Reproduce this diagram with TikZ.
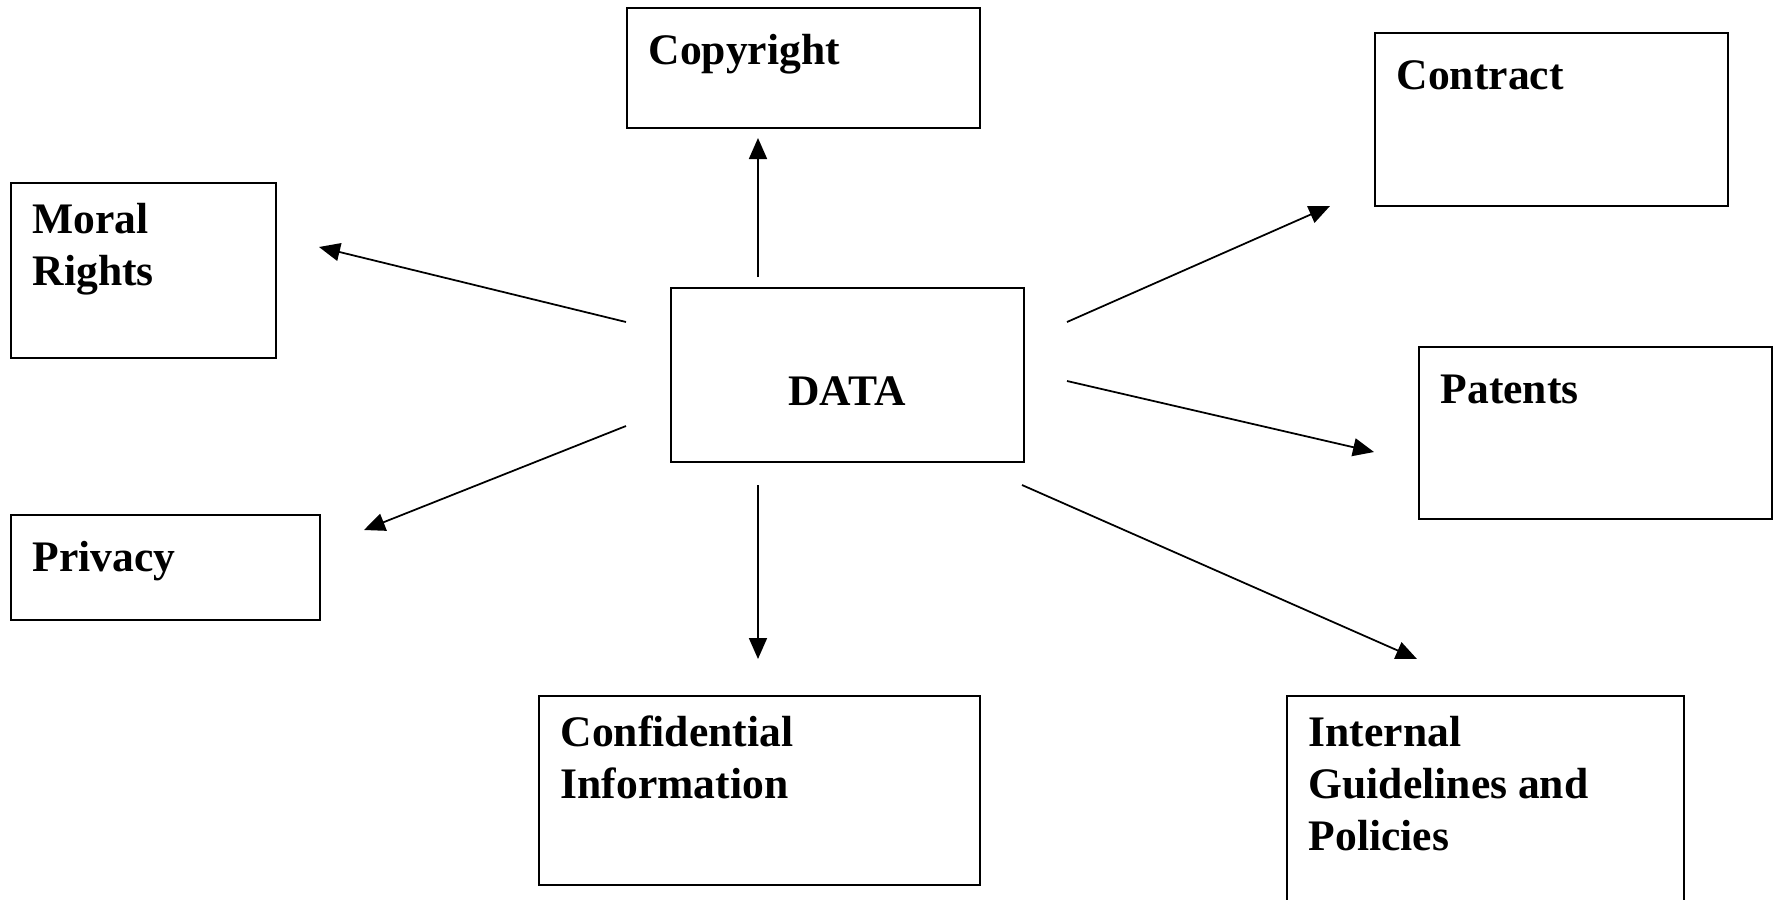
\documentclass[tikz,border=0pt]{standalone}
\usepackage{fontspec}
\setmainfont{Liberation Serif}
\usetikzlibrary{arrows.meta, positioning}

\begin{document}
\begin{tikzpicture}[
box/.style={rectangle, draw=black, line width=0.55pt, anchor=north west, inner sep=0pt},
txt/.style={anchor=north west, align=left, inner sep=0pt, xshift=0.22cm, yshift=-0.205cm,
  font=\fontsize{12.4}{14.8}\selectfont\bfseries, execute at begin node=\strut},
line/.style={-{Triangle[length=2.1mm, width=1.8mm]}, line width=0.5pt}
]
\useasboundingbox (0,0) rectangle (17.74,-9.00);

% boxes
\node[box, minimum width=3.53cm, minimum height=1.20cm, label={[txt]north west:Copyright}] (copyright) at (6.26,-0.07) {};
\node[box, minimum width=3.53cm, minimum height=1.73cm, label={[txt]north west:Contract}] (contract) at (13.74,-0.32) {};
\node[box, minimum width=2.65cm, minimum height=1.75cm, label={[txt]north west:Moral\\Rights}] (moral) at (0.10,-1.82) {};
\node[box, minimum width=3.53cm, minimum height=1.74cm] (data) at (6.70,-2.87) {};
\node[anchor=base, inner sep=0pt, font=\fontsize{12.4}{14.8}\selectfont\bfseries] (datatxt) at (8.47,-4.05) {DATA};
\node[box, minimum width=3.53cm, minimum height=1.72cm, label={[txt]north west:Patents}] (patents) at (14.18,-3.46) {};
\node[box, minimum width=3.09cm, minimum height=1.05cm, label={[txt]north west:Privacy}] (privacy) at (0.10,-5.14) {};
\node[box, minimum width=4.41cm, minimum height=1.89cm, label={[txt]north west:Confidential\\Information}] (confidential) at (5.38,-6.95) {};
\node[box, minimum width=3.97cm, minimum height=2.40cm, label={[txt]north west:Internal\\Guidelines and\\Policies}] (internal) at (12.86,-6.95) {};

% arrow ends
\coordinate (c1) at (7.58,-2.77);  \coordinate (c1t) at (7.58,-1.38);
\coordinate (m1) at (6.26,-3.22);  \coordinate (m1t) at (3.19,-2.47);
\coordinate (p1) at (6.26,-4.26);  \coordinate (p1t) at (3.64,-5.30);
\coordinate (f1) at (7.58,-4.85);  \coordinate (f1t) at (7.58,-6.59);
\coordinate (k1) at (10.67,-3.22); \coordinate (k1t) at (13.30,-2.06);
\coordinate (t1) at (10.67,-3.81); \coordinate (t1t) at (13.74,-4.52);
\coordinate (g1) at (10.22,-4.85); \coordinate (g1t) at (14.17,-6.59);

\draw[line] (c1) -- (c1t);
\draw[line] (m1) -- (m1t);
\draw[line] (p1) -- (p1t);
\draw[line] (f1) -- (f1t);
\draw[line] (k1) -- (k1t);
\draw[line] (t1) -- (t1t);
\draw[line] (g1) -- (g1t);
\end{tikzpicture}
\end{document}
